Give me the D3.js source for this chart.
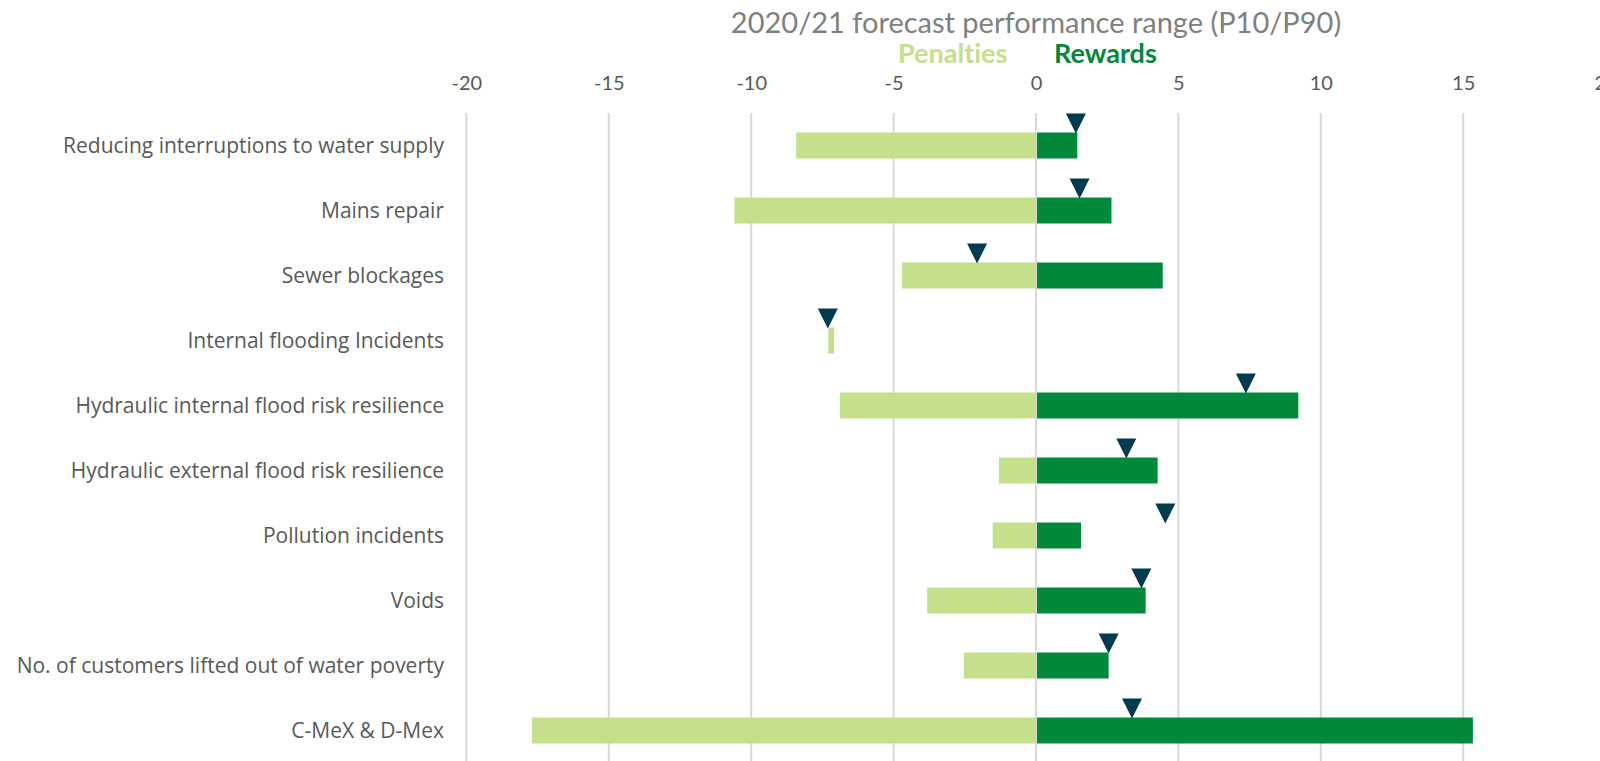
<!DOCTYPE html>
<html lang="en">
<head>
    <meta charset="UTF-8">
    <title>Forecast performance range</title>
    <script src="https://d3js.org/d3.v7.min.js"></script>
    <style>
        body { margin: 0; background: #fff; }
        svg { display: block; }
        text { font-variant-ligatures: none; }
    </style>
</head>
<body>
<svg width="1600" height="761"></svg>
<script>
    // values (GBP m)
    let categories = [
        "Reducing interruptions to water supply",
        "Mains repair",
        "Sewer blockages",
        "Internal flooding Incidents",
        "Hydraulic internal flood risk resilience",
        "Hydraulic external flood risk resilience",
        "Pollution incidents",
        "Voids",
        "No. of customers lifted out of water poverty",
        "C-MeX & D-Mex"
    ]
    let penaltyLow  = [-8.42, -10.59, -4.70, -7.29, -6.88, -1.30, -1.52, -3.82, -2.53, -17.70]
    let penaltyHigh = [0, 0, 0, -7.09, 0, 0, 0, 0, 0, 0]
    let rewards     = [1.45, 2.65, 4.45, 0, 9.21, 4.27, 1.58, 3.85, 2.55, 15.34]
    let forecast    = [1.40, 1.53, -2.07, -7.31, 7.37, 3.17, 4.54, 3.70, 2.55, 3.37]
    let tickValues  = [-20, -15, -10, -5, 0, 5, 10, 15, 20]

    let rows = categories.map(function(c, i) {
        return {name: c, pLo: penaltyLow[i], pHi: penaltyHigh[i], rew: rewards[i], fc: forecast[i]}
    })

    let svg = d3.select('svg')
    let grey = '#595959'

    let x = d3.scaleLinear().domain([-20, 20]).range([466.4, 1605.6])
    let y = d3.scaleBand().domain(categories).range([113, 763])
        .paddingInner(0.6).paddingOuter(0.3)

    // title + legend
    svg.append('text')
        .attr('x', x(0)).attr('y', 33)
        .attr('text-anchor', 'middle')
        .attr('font-family', 'Lato, sans-serif')
        .attr('font-size', 29)
        .attr('fill', '#808080')
        .text('2020/21 forecast performance range (P10/P90)')

    let legend = svg.append('text')
        .attr('y', 63)
        .attr('font-family', 'Lato, sans-serif')
        .attr('font-size', 27)
        .attr('font-weight', 'bold')
    legend.append('tspan').attr('x', 898).attr('fill', '#c4e08a').text('Penalties')
    legend.append('tspan').attr('x', 1054).attr('fill', '#00893b').text('Rewards')

    // top axis with gridlines
    let axis = d3.axisTop(x).tickValues(tickValues).tickSize(0).tickPadding(0)
        .tickFormat(function(d) { return String(d) })
    let gAxis = svg.append('g')
        .attr('transform', 'translate(0,90)')
        .call(axis)
    gAxis.select('.domain').remove()
    gAxis.selectAll('text')
        .attr('font-family', 'Lato, sans-serif')
        .attr('font-size', 20)
        .attr('fill', grey)

    svg.append('g')
        .selectAll('line')
        .data(tickValues)
        .enter()
        .append('line')
        .attr('x1', function(d) { return x(d) })
        .attr('x2', function(d) { return x(d) })
        .attr('y1', 113)
        .attr('y2', 761)
        .attr('stroke', '#d9d9d9')
        .attr('stroke-width', 2)

    // category labels
    let gY = svg.append('g')
        .attr('transform', 'translate(444,1)')
        .call(d3.axisLeft(y).tickSize(0).tickPadding(0))
    gY.select('.domain').remove()
    gY.selectAll('text')
        .attr('font-family', '"Open Sans", sans-serif')
        .attr('font-size', 21)
        .attr('fill', grey)

    // bars
    svg.append('g')
        .selectAll('rect')
        .data(rows)
        .enter()
        .append('rect')
        .attr('x', function(d) { return x(d.pLo) })
        .attr('width', function(d) { return x(d.pHi) - x(d.pLo) })
        .attr('y', function(d) { return y(d.name) })
        .attr('height', y.bandwidth())
        .attr('fill', '#c4e08a')

    svg.append('g')
        .selectAll('rect')
        .data(rows.filter(function(d) { return d.rew > 0 }))
        .enter()
        .append('rect')
        .attr('x', x(0) + 1)
        .attr('width', function(d) { return x(d.rew) - x(0) - 1 })
        .attr('y', function(d) { return y(d.name) })
        .attr('height', y.bandwidth())
        .attr('fill', '#00893b')

    // forecast markers (downward triangles)
    svg.append('g')
        .selectAll('path')
        .data(rows)
        .enter()
        .append('path')
        .attr('d', function(d) {
            let cx = x(d.fc), tip = y(d.name) + 1
            return d3.line()([[cx - 10, tip - 20], [cx + 10, tip - 20], [cx, tip]]) + 'Z'
        })
        .attr('fill', '#013b50')
</script>
</body>
</html>
